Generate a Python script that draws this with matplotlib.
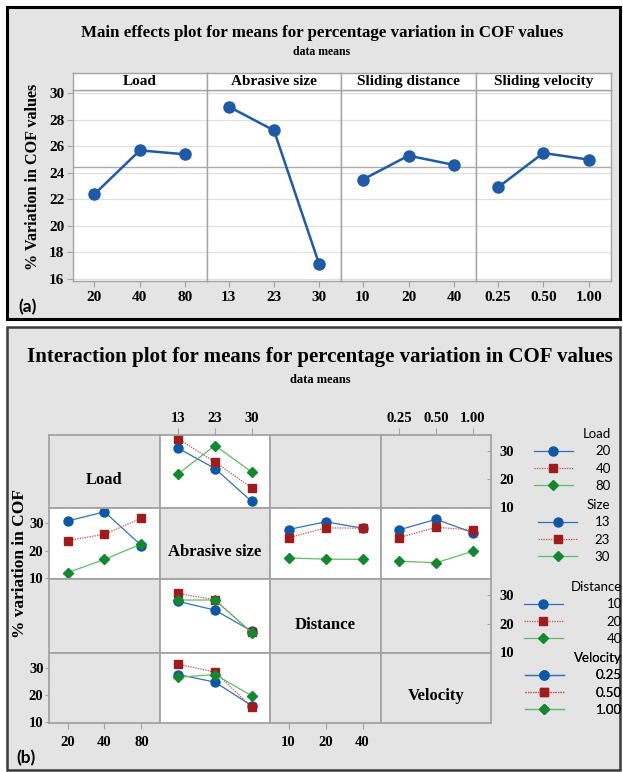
import numpy as np
import matplotlib.pyplot as plt
from matplotlib.patches import Rectangle
from matplotlib.lines import Line2D

W, H = 623, 772
SERIF = 'Liberation Serif'
SANS = 'Lato'
BG = '#e4e4e4'
EDGE = '#a3a3a3'

plt.rcParams['font.family'] = SERIF
plt.rcParams['font.weight'] = 'bold'

# factor levels
load_levels = ['20', '40', '80']
size_levels = ['13', '23', '30']
dist_levels = ['10', '20', '40']
vel_levels = ['0.25', '0.50', '1.00']

# (a) main effects, % variation in COF
me_factors = ['Load', 'Abrasive size', 'Sliding distance', 'Sliding velocity']
load_means = [22.4, 25.7, 25.4]
size_means = [29.0, 27.2, 17.1]
dist_means = [23.5, 25.3, 24.6]
vel_means = [22.9, 25.5, 25.0]

# (b) interaction cell means, rows = abrasive size 13 / 23 / 30
size_load = [[30.8, 34.1, 21.9], [23.7, 26.0, 31.8], [12.1, 16.9, 22.5]]
size_dist = [[27.7, 30.5, 28.2], [24.7, 28.3, 28.2], [17.4, 17.0, 16.9]]
size_vel = [[27.6, 31.4, 26.6], [24.8, 28.5, 27.6], [16.2, 15.7, 19.8]]
ix_factors = ['Load', 'Abrasive size', 'Distance', 'Velocity']
legend_titles = ['Load', 'Size', 'Distance', 'Velocity']

styles = [
    dict(color='#3470b8', ls='-', marker='o', mfc='#0d58a6', mec='#0d58a6', ms=6.5),
    dict(color='#c4504f', ls=(0, (1, 1)), marker='s', mfc='#a01c1c', mec='#a01c1c', ms=6),
    dict(color='#62bb66', ls='-', marker='D', mfc='#12892e', mec='#12892e', ms=5.5),
]

fig = plt.figure(figsize=(W / 100, H / 100), dpi=100)
canvas = fig.add_axes([0, 0, 1, 1], zorder=-5)
canvas.set_xlim(0, W)
canvas.set_ylim(H, 0)
canvas.axis('off')
canvas.add_patch(Rectangle((7, 7), 613, 312, fc=BG, ec='black', lw=2.2))
canvas.add_patch(Rectangle((7, 327), 613, 443, fc=BG, ec='#3a3a3a', lw=1.8))


def px_axes(x0, y0, x1, y1):
    return fig.add_axes([x0 / W, 1 - y1 / H, (x1 - x0) / W, (y1 - y0) / H])


def grey_spines(ax, lw=1.0):
    for s in ax.spines.values():
        s.set_color(EDGE)
        s.set_linewidth(lw)


# ---------------- (a) main effects ----------------
canvas.text(322, 33, 'Main effects plot for means for percentage variation in COF values',
            ha='center', va='center', fontsize=12.2)
canvas.text(322, 52, 'data means', ha='center', va='center', fontsize=8.5)
canvas.text(33, 177, '% Variation in COF values', rotation=90, ha='center', va='center', fontsize=11.6)
canvas.text(18, 307, '(a)', ha='left', va='center', fontsize=12.5, family=SANS)

me_edges = [72.7, 207, 341, 476, 610.6]
me_levels = [load_levels, size_levels, dist_levels, vel_levels]
me_vals = [load_means, size_means, dist_means, vel_means]
grand = np.mean(me_vals)
for i in range(4):
    x0, x1 = me_edges[i], me_edges[i + 1]
    ax = px_axes(x0, 90, x1, 281)
    ax.axhline(grand, color='#aaaaaa', lw=1, zorder=1)
    ax.plot(range(1, 4), me_vals[i], color='#1f5aa6', lw=1.8, marker='o', ms=8, zorder=3)
    ax.set_xlim(0.52, 3.48)
    ax.set_ylim(15.85, 30.25)
    ax.set_yticks(np.arange(16, 31, 2))
    ax.grid(axis='y', color='#e0e0e0', lw=0.9)
    ax.set_axisbelow(True)
    ax.set_xticks(range(1, 4))
    ax.set_xticklabels(me_levels[i])
    ax.tick_params(axis='x', length=4, color=EDGE, pad=3.5, labelsize=11)
    if i == 0:
        ax.tick_params(axis='y', length=4, color=EDGE, pad=2, labelsize=11)
    else:
        ax.tick_params(axis='y', length=0, labelleft=False)
    grey_spines(ax)
    strip = px_axes(x0, 72.7, x1, 90)
    strip.set_xticks([])
    strip.set_yticks([])
    grey_spines(strip)
    strip.text(0.5, 0.5, me_factors[i], transform=strip.transAxes, ha='center', va='center', fontsize=11)

# ---------------- (b) interaction matrix ----------------
canvas.text(320, 357, 'Interaction plot for means for percentage variation in COF values',
            ha='center', va='center', fontsize=15)
canvas.text(320, 380, 'data means', ha='center', va='center', fontsize=9)
canvas.text(20, 563, '% variation in COF', rotation=90, ha='center', va='center', fontsize=12.5)
canvas.text(16, 758, '(b)', ha='left', va='center', fontsize=12.5, family=SANS)

sl = np.array(size_load)
sd = np.array(size_dist)
sv = np.array(size_vel)
cells = {(0, 1): sl.T, (1, 0): sl, (1, 2): sd, (1, 3): sv, (2, 1): sd.T, (3, 1): sv.T}
ix_levels = [load_levels, size_levels, dist_levels, vel_levels]

cx = [49, 160, 270, 381, 491]
ry = [435, 508, 579, 653, 723]
for r in range(4):
    for c in range(4):
        ax = px_axes(cx[c], ry[r], cx[c + 1], ry[r + 1])
        ax.set_xlim(0.5, 3.5)
        ax.set_ylim(9.8, 35.5)
        ax.set_xticks(range(1, 4))
        ax.set_xticklabels(ix_levels[c])
        ax.set_yticks([10, 20, 30])
        ax.tick_params(length=0, labelbottom=False, labelleft=False, labelsize=10.5, color=EDGE)
        grey_spines(ax, 1.3)
        if (r, c) in cells:
            ax.set_facecolor('white')
            for k, ys in enumerate(cells[(r, c)]):
                ax.plot(range(1, 4), ys, lw=0.9, **styles[k])
        else:
            ax.set_facecolor(BG)
        if r == c:
            ax.text(0.5, 0.38, ix_factors[r], transform=ax.transAxes, ha='center', va='center', fontsize=12)
        if r == 0 and c in (1, 3):
            ax.tick_params(axis='x', top=True, labeltop=True, bottom=False, length=5, pad=2)
        if r == 3 and c in (0, 2):
            ax.tick_params(axis='x', bottom=True, labelbottom=True, length=4, pad=5)
        if c == 0 and r in (1, 3):
            ax.tick_params(axis='y', left=True, labelleft=True, length=3, pad=1)
        if c == 3 and r in (0, 2):
            ax.tick_params(axis='y', right=True, labelright=True, left=False, direction='in', length=3, pad=6)

leg_pos = [(611, 428, 1.7), (610, 499, 1.3), (622, 581, 3.3), (622, 652, 2.4)]
for g, (xr, ytop, pad) in enumerate(leg_pos):
    handles = [Line2D([], [], lw=0.9, **styles[k]) for k in range(3)]
    leg = canvas.legend(handles, ix_levels[g], title=legend_titles[g], loc='upper right',
                        bbox_to_anchor=(xr, ytop), bbox_transform=canvas.transData,
                        frameon=False, borderpad=0, borderaxespad=0, handlelength=3.0,
                        handletextpad=pad, labelspacing=0.4, alignment='right',
                        prop={'family': SANS, 'weight': 400, 'size': 9.5},
                        title_fontproperties={'family': SANS, 'weight': 400, 'size': 9.5})
    canvas.add_artist(leg)

fig.savefig('out.png', dpi=100)
